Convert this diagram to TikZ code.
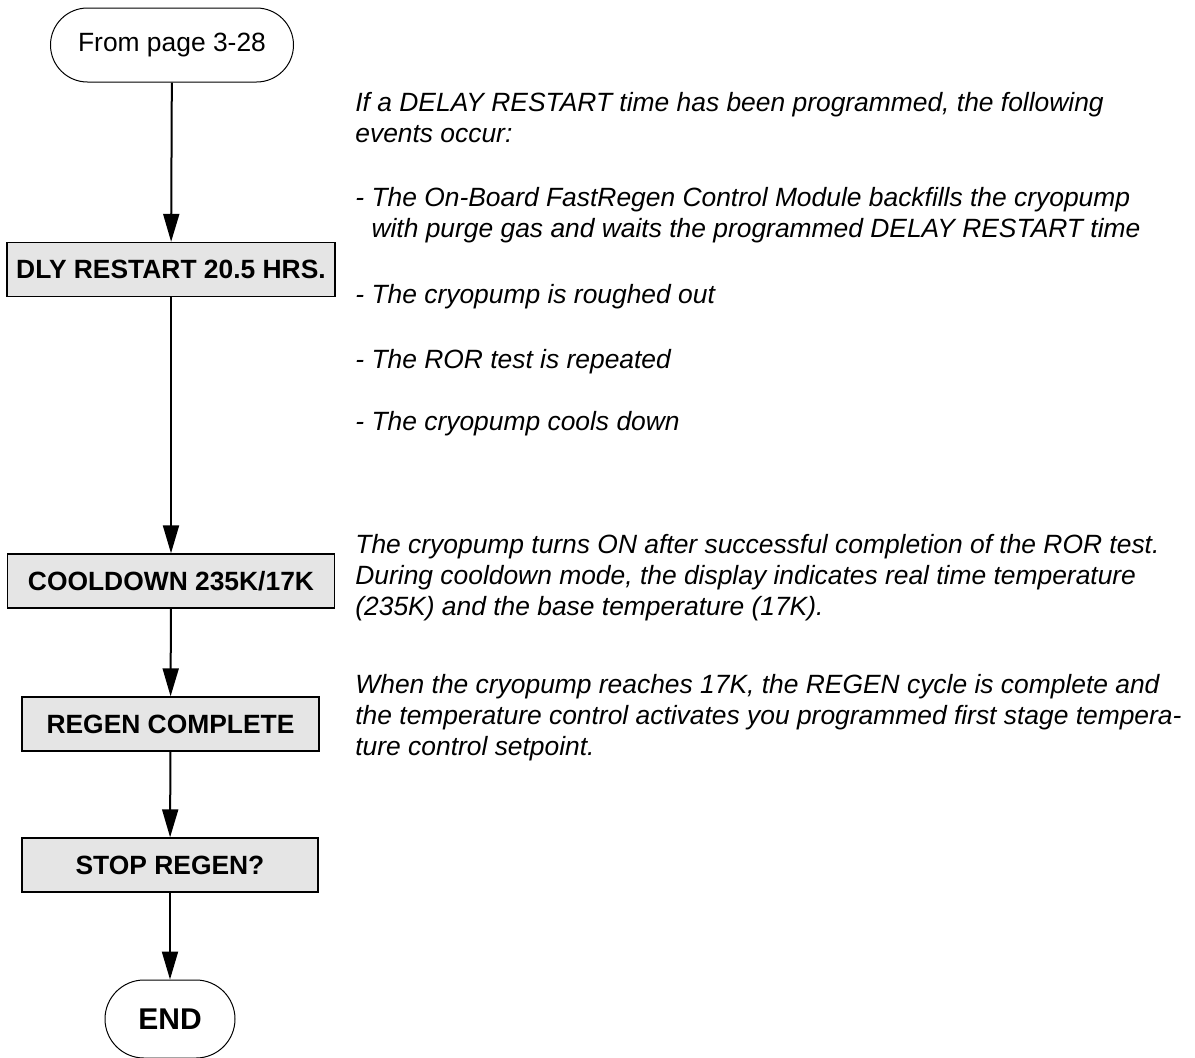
\documentclass[tikz,border=0pt]{standalone}
\usepackage{fontspec}
\setmainfont{Liberation Sans}
\usetikzlibrary{positioning,arrows.meta}

\begin{document}
\begin{tikzpicture}[
    x=0.5pt, y=-0.5pt,
    terminal/.style = {rectangle, rounded corners=18.5pt, draw, line width=.5pt, minimum width=121.5pt, minimum height=37pt, font=\fontsize{13.2}{15.5}\selectfont},
    display/.style = {rectangle, draw, line width=.7pt, fill=black!10, minimum height=27pt, inner xsep=3pt, font=\bfseries\fontsize{13.2}{15.5}\selectfont},
    flow/.style = {-{Triangle[length=14pt,width=8pt]}, line width=1pt},
    note/.style = {anchor=base west, inner sep=0pt, align=left, font=\itshape\fontsize{13.2}{15.5}\selectfont}
    ]
    \useasboundingbox (0,0) rectangle (1195,1057);

    \node[terminal] (from) at (172,45) {From page 3-28};
    \node[display, minimum width=164pt] (dly) at (171,269.5) {DLY RESTART 20.5 HRS.};
    \node[display, minimum width=163.5pt] (cooldown) at (171,581) {COOLDOWN 235K/17K};
    \node[display, minimum width=148.5pt] (complete) at (170.5,724) {REGEN COMPLETE};
    \node[display, minimum width=148pt] (stopregen) at (170,865) {STOP REGEN?};
    \node[terminal, minimum width=65pt, minimum height=39pt, rounded corners=19.5pt, font=\bfseries\fontsize{15}{18}\selectfont] (done) at (170,1019) {END};

    \draw[flow] (from) -- (dly);
    \draw[flow] (dly) -- (cooldown);
    \draw[flow] (cooldown) -- (complete);
    \draw[flow] (complete) -- (stopregen);
    \draw[flow] (stopregen) -- (done);

    % notes beside the display messages (base = last line)
    \node[note] (events) at (355,142) {If a DELAY RESTART time has been programmed, the following\\events occur:};
    \node[note] (backfill) at (355,237) {- The On-Board FastRegen Control Module backfills the cryopump\\\phantom{- }with purge gas and waits the programmed DELAY RESTART time};
    \node[note] (rough) at (355,303) {- The cryopump is roughed out};
    \node[note] (ror) at (355,368) {- The ROR test is repeated};
    \node[note] (cool) at (355,430) {- The cryopump cools down};
    \node[note] (turnson) at (355,615) {The cryopump turns ON after successful completion of the ROR test.\\During cooldown mode, the display indicates real time temperature\\(235K) and the base temperature (17K).};
    \node[note] (reaches) at (355,755) {When the cryopump reaches 17K, the REGEN cycle is complete and\\the temperature control activates you programmed first stage tempera-\\ture control setpoint.};
\end{tikzpicture}
\end{document}
